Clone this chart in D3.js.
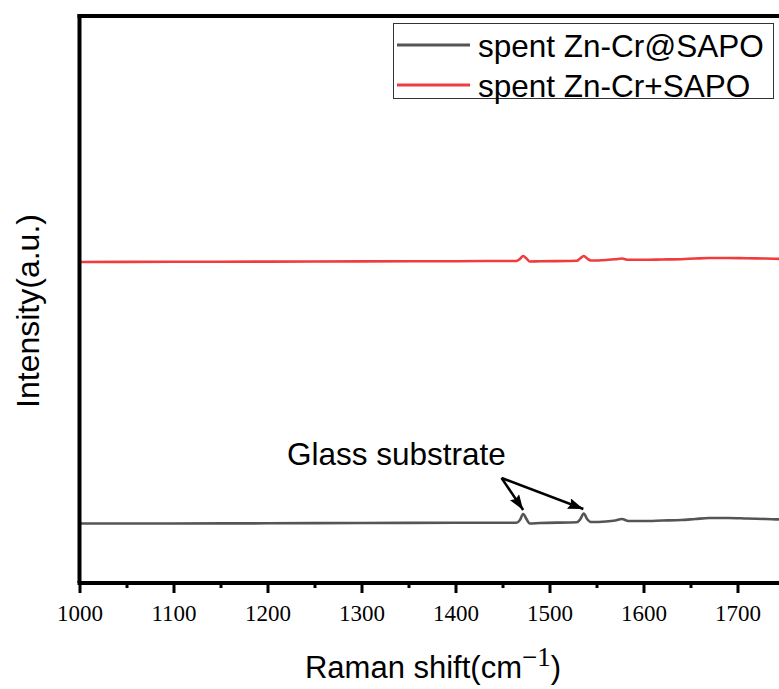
<!DOCTYPE html>
<html>
<head>
<meta charset="utf-8">
<script src="https://cdn.jsdelivr.net/npm/d3@7"></script>
<style>
  html, body { margin: 0; padding: 0; background: #fff; }
  svg { display: block; }
</style>
</head>
<body>
<script>
// Raman shift (cm-1) sampling points
const shift = [1000, 1100, 1200, 1300, 1400, 1450, 1465, 1468.5, 1472, 1475.5, 1479, 1490, 1520, 1529,
  1532.5, 1536.5, 1540, 1544, 1560, 1570, 1577, 1584, 1600, 1620, 1640, 1655, 1670, 1690, 1710,
  1730, 1750, 1780, 1800];

// spent Zn-Cr@SAPO (arbitrary units)
const atSapo = [59.5, 59.5, 59.7, 60, 60.2, 60.3, 60.3, 63, 69, 64, 59.5, 60, 60.5, 60.7,
  63.5, 69.5, 64, 61, 61.5, 62.5, 64, 62, 62, 62.5, 63, 64, 65, 65, 64.5,
  64, 63.5, 63.5, 63];

// spent Zn-Cr+SAPO (arbitrary units, offset)
const plusSapo = [321, 321.2, 321.4, 321.6, 321.8, 322, 322, 324, 327, 324.5, 321.5, 321.8, 322, 322.2,
  324.5, 327, 324.5, 322.5, 323, 323.7, 324.5, 323.2, 323.2, 323.5, 323.8, 324.5, 325, 325, 324.7,
  324.5, 324, 324, 323.8];

const seriesNames = ["spent Zn-Cr@SAPO", "spent Zn-Cr+SAPO"];
const seriesColors = ["#555555", "#f03c3c"];

const majorTicks = [1000, 1100, 1200, 1300, 1400, 1500, 1600, 1700];
const minorTicks = [1050, 1150, 1250, 1350, 1450, 1550, 1650];

// glass substrate peaks and annotation anchor
const glassPeaks = [[1472, 73], [1536, 74]];
const arrowStart = [1449, 105];

const width = 779, height = 689;
const sans = "Arial, 'Liberation Sans', sans-serif";
const serif = "'Times New Roman', 'Liberation Serif', serif";

const x = d3.scaleLinear().domain([1000, 1800]).range([79.5, 831.5]);
const y = d3.scaleLinear().domain([0, 567]).range([583, 16]);

const svg = d3.select("body").append("svg")
  .attr("width", width)
  .attr("height", height);

const defs = svg.append("defs");
defs.append("marker")
  .attr("id", "arrowhead")
  .attr("viewBox", "0 0 14 10")
  .attr("refX", 14).attr("refY", 5)
  .attr("markerWidth", 16).attr("markerHeight", 11)
  .attr("markerUnits", "userSpaceOnUse")
  .attr("orient", "auto")
  .append("path")
  .attr("d", "M0,0 L14,5 L0,10 L2,5 Z")
  .attr("fill", "#000");

// spectra
const line = d3.line()
  .x((d, i) => x(shift[i]))
  .y(d => y(d))
  .curve(d3.curveMonotoneX);

[atSapo, plusSapo].forEach((vals, k) => {
  svg.append("path")
    .datum(vals)
    .attr("fill", "none")
    .attr("stroke", seriesColors[k])
    .attr("stroke-width", 2.6)
    .attr("stroke-linejoin", "round")
    .attr("d", line);
});

// x axis: minor ticks then major ticks
const minorAxis = d3.axisBottom(x).tickValues(minorTicks).tickSize(5).tickSizeOuter(0).tickFormat("");
const majorAxis = d3.axisBottom(x).tickValues(majorTicks).tickSize(10).tickSizeOuter(0).tickFormat(d3.format("d"));

const gMinor = svg.append("g").attr("transform", `translate(0,${y(0)})`).call(minorAxis);
const gMajor = svg.append("g").attr("transform", `translate(0,${y(0)})`).call(majorAxis);
[gMinor, gMajor].forEach(g => {
  g.select(".domain").remove();
  g.selectAll(".tick line").attr("stroke", "#000").attr("stroke-width", 3);
});
gMajor.selectAll(".tick text")
  .attr("y", 38).attr("dy", 0)
  .attr("fill", "#000")
  .style("font-family", serif)
  .style("font-size", "23px");

// frame: bottom, left and top lines
svg.append("line")
  .attr("x1", x(1000) - 2).attr("x2", width)
  .attr("y1", y(0)).attr("y2", y(0))
  .attr("stroke", "#000").attr("stroke-width", 4);
svg.append("line")
  .attr("x1", x(1000)).attr("x2", x(1000))
  .attr("y1", y(567) - 2).attr("y2", y(0))
  .attr("stroke", "#000").attr("stroke-width", 4);
svg.append("line")
  .attr("x1", x(1000) - 2).attr("x2", width)
  .attr("y1", y(567)).attr("y2", y(567))
  .attr("stroke", "#000").attr("stroke-width", 4);

// axis titles
const xTitle = svg.append("text")
  .attr("x", 433).attr("y", 678)
  .attr("text-anchor", "middle")
  .style("font-family", sans)
  .style("font-size", "31px");
xTitle.append("tspan").text("Raman shift(cm");
xTitle.append("tspan").attr("dy", -12).style("font-family", serif).style("font-size", "27px").text("\u22121");
xTitle.append("tspan").attr("dy", 12).text(")");

svg.append("text")
  .attr("transform", "translate(39,311) rotate(-90)")
  .attr("text-anchor", "middle")
  .style("font-family", sans)
  .style("font-size", "32px")
  .text("Intensity(a.u.)");

// annotation
svg.append("text")
  .attr("x", 287).attr("y", 465)
  .style("font-family", sans)
  .style("font-size", "31.5px")
  .text("Glass substrate");

glassPeaks.forEach(p => {
  svg.append("line")
    .attr("x1", x(arrowStart[0])).attr("y1", y(arrowStart[1]))
    .attr("x2", x(p[0])).attr("y2", y(p[1]))
    .attr("stroke", "#000").attr("stroke-width", 2.5)
    .attr("marker-end", "url(#arrowhead)");
});

// legend
const legend = svg.append("g");
legend.append("rect")
  .attr("x", 393.5).attr("y", 23.5)
  .attr("width", 380).attr("height", 75)
  .attr("fill", "#fff").attr("stroke", "#333").attr("stroke-width", 1);
seriesNames.forEach((name, k) => {
  const cy = 45 + k * 40;
  legend.append("line")
    .attr("x1", 397).attr("x2", 470)
    .attr("y1", cy).attr("y2", cy)
    .attr("stroke", seriesColors[k]).attr("stroke-width", 3);
  legend.append("text")
    .attr("x", 478).attr("y", cy + 11.5)
    .style("font-family", sans)
    .style("font-size", "31.5px")
    .text(name);
});
</script>
</body>
</html>
